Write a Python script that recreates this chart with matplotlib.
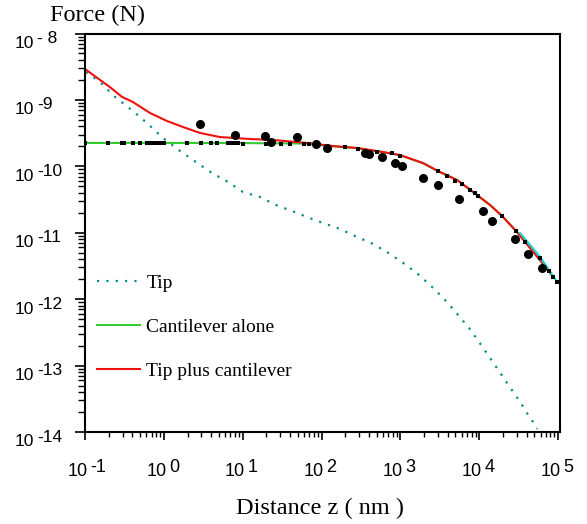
import matplotlib
matplotlib.use("Agg")
import matplotlib.pyplot as plt
from matplotlib.ticker import LogLocator, NullFormatter
from matplotlib.transforms import blended_transform_factory, offset_copy

# tip plus cantilever (red)
total_x = [0.100, 0.155, 0.207, 0.295, 0.406, 0.668, 1.10, 1.75, 2.88, 5.16, 12.4, 24.3,
           65.6, 140, 283, 605, 993, 1945, 3020, 5260, 8390, 13800, 19600, 30300, 75200, 86900]
total_y = [2.92e-9, 2.00e-9, 1.56e-9, 1.11e-9, 9.29e-10, 6.35e-10, 4.81e-10, 3.91e-10, 3.18e-10,
           2.76e-10, 2.58e-10, 2.49e-10, 2.25e-10, 2.02e-10, 1.89e-10, 1.64e-10, 1.48e-10,
           1.12e-10, 8.49e-11, 6.22e-11, 4.10e-11, 2.61e-11, 1.78e-11, 1.02e-11, 2.74e-12, 2.14e-12]

# cantilever alone (green)
cant_x = [0.1, 1.0, 10.0, 65.6, 140, 283, 605, 993, 1945, 3020, 5260, 8390, 13800, 19600,
          30300, 75200, 86900]
cant_y = [2.25e-10, 2.25e-10, 2.24e-10, 2.20e-10, 2.00e-10, 1.88e-10, 1.63e-10, 1.47e-10,
          1.11e-10, 8.40e-11, 6.20e-11, 4.10e-11, 2.60e-11, 1.78e-11, 1.02e-11, 2.74e-12, 2.14e-12]

# short cyan piece at the far end
cyan_x = [33100, 59400, 97700]
cyan_y = [9.89e-12, 4.31e-12, 1.81e-12]

# tip alone (dotted)
tip_x = [0.103, 0.155, 0.240, 0.406, 0.630, 0.977, 1.61, 2.56, 4.09, 6.53, 10.1, 16.6, 26.6,
         42.4, 65.8, 105, 172, 267, 426, 679, 1090, 1730, 2610, 3810, 5420, 7460, 10000,
         33100, 41900, 48400, 54500]
tip_y = [2.63e-9, 1.86e-9, 1.11e-9, 6.81e-10, 4.34e-10, 2.67e-10, 1.70e-10, 1.16e-10, 7.93e-11,
         5.81e-11, 4.10e-11, 3.45e-11, 2.61e-11, 2.12e-11, 1.72e-11, 1.40e-11, 1.14e-11,
         8.91e-12, 7.00e-12, 5.12e-12, 3.50e-12, 2.31e-12, 1.47e-12, 9.35e-13, 5.77e-13,
         3.67e-13, 2.26e-13, 2.82e-14, 1.80e-14, 1.41e-14, 1.11e-14]

# measured points, large dots
big_x = [2.88, 8.02, 19.2, 22.9, 49.0, 85.3, 118, 357, 402, 587, 859, 1050, 1950, 3020,
         5570, 11200, 14600, 28600, 41900, 63000]
big_y = [4.34e-10, 2.96e-10, 2.86e-10, 2.32e-10, 2.76e-10, 2.17e-10, 1.89e-10, 1.58e-10,
         1.53e-10, 1.38e-10, 1.12e-10, 1.01e-10, 6.67e-11, 5.22e-11, 3.22e-11, 2.12e-11,
         1.50e-11, 8.04e-12, 4.78e-12, 2.94e-12]

# measured points, small dots
small_x = [0.1, 0.196, 0.295, 0.313, 0.406, 0.499, 0.612, 0.689, 0.752, 0.820, 0.920, 1.01,
           1.97, 2.96, 3.97, 4.73, 6.53, 7.33, 8.02, 8.75, 10.1, 19.8, 30.7, 40.0, 60.1, 69.7,
           199, 291, 508, 787, 993, 3020, 3930, 4950, 6080, 7690, 8890, 9700, 19600, 29500,
           38400, 59400, 77300, 86900, 97700]
small_y = [2.24e-10] * 20 + [2.17e-10] * 6 + [
    1.95e-10, 1.82e-10, 1.64e-10, 1.58e-10, 1.43e-10, 8.49e-11, 7.14e-11, 6.01e-11, 5.41e-11,
    4.40e-11, 3.96e-11, 3.57e-11, 1.78e-11, 1.06e-11, 7.24e-12, 4.16e-12, 2.65e-12, 2.15e-12,
    1.81e-12]

x_exps = [-1, 0, 1, 2, 3, 4, 5]
y_exps = [-8, -9, -10, -11, -12, -13, -14]
y_exp_text = {-8: "- 8"}

SANS = "Liberation Sans"
SERIF = "Liberation Serif"

fig = plt.figure(figsize=(5.87, 5.24), dpi=100)
ax = fig.add_axes([85 / 587, (524 - 432) / 524, (560 - 85) / 587, (432 - 33.5) / 524])

ax.plot(tip_x, tip_y, color="#0a8a8a", lw=1.6, linestyle=(0, (1, 3.2)), label="Tip")
ax.plot(cant_x, cant_y, color="#33cc33", lw=1.5, label="Cantilever alone")
ax.plot(total_x, total_y, color="#f01010", lw=1.5, label="Tip plus cantilever")
ax.plot(cyan_x, cyan_y, color="#10d8d8", lw=1.5)
ax.plot(big_x, big_y, "o", color="black", ms=6.5, mew=0)
ax.plot(small_x, small_y, "s", color="black", ms=3.0, mew=0)
ax.plot([0.295], [1e-8], "s", color="#10d8d8", ms=2, mew=0, clip_on=False)

ax.set_xscale("log")
ax.set_yscale("log")
ax.set_xlim(0.1, 1.06e5)
ax.set_ylim(1e-14, 1e-8)

for side in ax.spines.values():
    side.set_linewidth(1.5)

ax.xaxis.set_major_locator(LogLocator(base=10, numticks=20))
ax.xaxis.set_minor_locator(LogLocator(base=10, subs=range(2, 10), numticks=20))
ax.yaxis.set_major_locator(LogLocator(base=10, numticks=20))
ax.yaxis.set_minor_locator(LogLocator(base=10, subs=range(2, 10), numticks=20))
for axis in (ax.xaxis, ax.yaxis):
    axis.set_major_formatter(NullFormatter())
    axis.set_minor_formatter(NullFormatter())
ax.tick_params(axis="x", which="major", direction="out", length=6, width=1.2)
ax.tick_params(axis="x", which="minor", direction="out", length=3.5, width=1.0)
ax.tick_params(axis="y", which="major", direction="out", length=7.5, width=1.2)
ax.tick_params(axis="y", which="minor", direction="out", length=5, width=1.0)
ax.tick_params(top=False, right=False, which="both")

# tick labels drawn as "10" with a full size raised exponent
xtr = blended_transform_factory(ax.transData, ax.transAxes)
for e in x_exps:
    base_tr = offset_copy(xtr, fig=fig, x=2.5, y=-40, units="dots")
    exp_tr = offset_copy(xtr, fig=fig, x=5, y=-36, units="dots")
    ax.text(10.0 ** e, 0, "10", transform=base_tr, ha="right", va="center",
            family=SANS, fontsize=13, clip_on=False)
    ax.text(10.0 ** e, 0, str(e), transform=exp_tr, ha="left", va="center",
            family=SANS, fontsize=13, clip_on=False)

ytr = blended_transform_factory(fig.transFigure, ax.transData)
for e in y_exps:
    base_tr = offset_copy(ytr, fig=fig, x=0, y=-10, units="dots")
    exp_tr = offset_copy(ytr, fig=fig, x=0, y=-5, units="dots")
    ax.text(15 / 587, 10.0 ** e, "10", transform=base_tr, ha="left", va="center",
            family=SANS, fontsize=12.5, clip_on=False)
    ax.text(37 / 587, 10.0 ** e, y_exp_text.get(e, str(e)), transform=exp_tr, ha="left",
            va="center", family=SANS, fontsize=12.5, clip_on=False)

fig.text(97 / 587, 1 - 15 / 524, "Force (N)", ha="center", va="center",
         family=SERIF, fontsize=17.5)
fig.text(320 / 587, 1 - 508 / 524, "Distance z ( nm )", ha="center", va="center",
         family=SERIF, fontsize=17.5)

leg = ax.legend(loc="upper left", bbox_to_anchor=(0.025, 0.395), frameon=False,
                borderpad=0, borderaxespad=0, handlelength=2.2, handletextpad=0.35,
                labelspacing=1.35, prop={"family": SERIF, "size": 14})

fig.savefig("out.png", dpi=100)
